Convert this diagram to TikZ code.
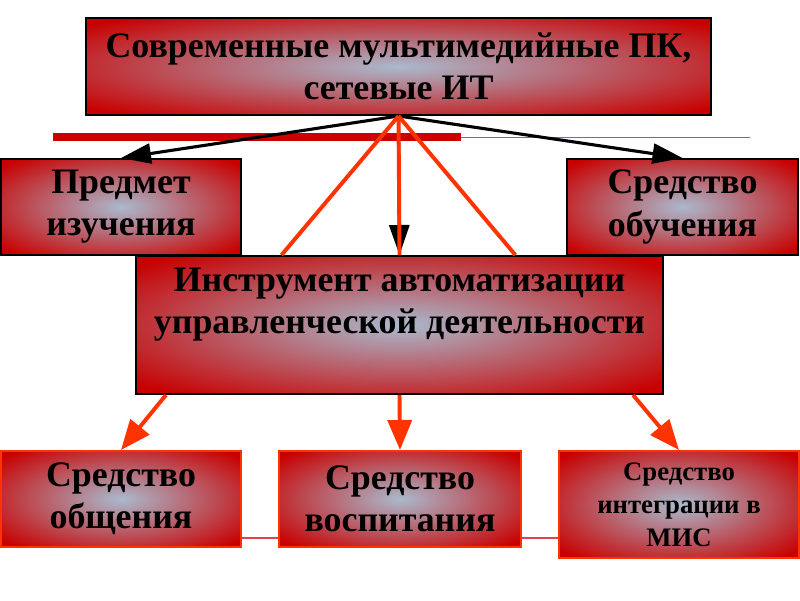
\documentclass[tikz,border=0pt]{standalone}
\usepackage{fontspec}
\setmainfont{Liberation Serif}
\usetikzlibrary{calc,arrows.meta}

\definecolor{boxred}{RGB}{200,0,0}
\definecolor{boxmid}{RGB}{170,185,205}
\definecolor{flame}{RGB}{255,51,0}
\definecolor{barred}{RGB}{204,0,0}
\definecolor{hair}{RGB}{222,70,70}
\pgfdeclareradialshading{boxglow}{\pgfpoint{0bp}{0bp}}{color(0bp)=(boxmid); color(33bp)=(boxred); color(71bp)=(boxred)}

\begin{document}
\begin{tikzpicture}[x=0.025cm, y=-0.025cm,
  words/.style={font=\bfseries\fontsize{25.5}{30}\selectfont, align=center},
  dark/.style={words, draw=black, line width=1.4pt, shading=boxglow},
  lite/.style={dark, draw=flame},
  blk/.style={draw=black, line width=2.2pt, -{Triangle[length=0.75cm, width=0.5cm]}},
  ray/.style={draw=flame, line width=2.8pt},
  fire/.style={ray, -{Triangle[length=0.75cm, width=0.6cm]}}]
\useasboundingbox (0,0) rectangle (800,600);
% bars behind everything
\fill[barred] (53,133) rectangle (461,141);
\draw[hair, line width=0.6pt] (461,137) -- (750,137);
\draw[hair, line width=0.8pt] (241,538) -- (559,538);
% upper level
\node[dark, minimum width=15.625cm, minimum height=2.425cm] (modern) at (398.5,66.5) {Современные мультимедийные ПК,\\ сетевые ИТ};
\node[dark, minimum width=6cm, minimum height=2.4cm] (subj) at (121,207) {Предмет\\ изучения};
\node[dark, minimum width=5.775cm, minimum height=2.4cm] (means) at (682.5,207) {Средство\\ обучения};
\node[dark, minimum width=13.175cm, minimum height=3.45cm] (auto) at (399.5,325) {};
\node[words] (autotxt) at (399.5,305) {Инструмент автоматизации\\ управленческой деятельности};
% lower level
\node[lite, minimum width=6cm, minimum height=2.4cm] (comm) at (121,499) {Средство\\ общения};
\node[lite, minimum width=6.05cm, minimum height=2.4cm] (upbr) at (400,499) {Средство\\ воспитания};
\node[lite, minimum width=6cm, minimum height=2.675cm, font=\bfseries\fontsize{19}{23.5}\selectfont] (integ) at (679,504.5) {Средство\\ интеграции в\\ МИС};
% connectors
\draw[blk] (modern.south) -- (subj.north);
\draw[blk] (modern.south) -- (means.north);
\draw[blk] (modern.south) -- (auto.north);
\draw[ray] (modern.south) -- ($(auto.north west)!0.277!(auto.north east)$);
\draw[ray] (modern.south) -- ($(auto.north west)!0.719!(auto.north east)$);
\draw[ray] (modern.south) -- (auto.north);
\draw[fire] ($(auto.south west)+(31,0)$) -- (comm.north);
\draw[fire] (auto.south) -- (upbr.north);
\draw[fire] ($(auto.south east)+(-31,0)$) -- (integ.north);
\end{tikzpicture}
\end{document}
